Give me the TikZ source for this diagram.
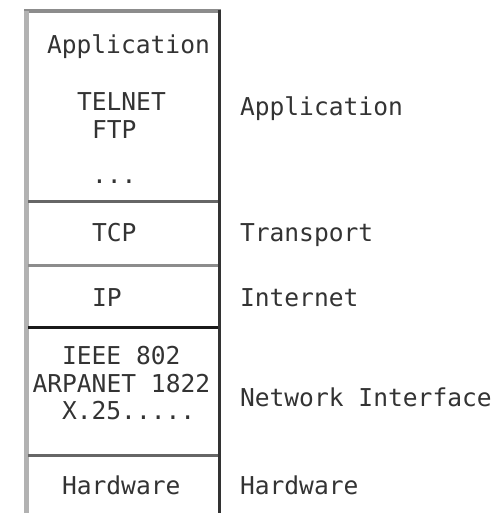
\documentclass[tikz,border=0pt]{standalone}
\usepackage{fontspec}
\setmonofont{DejaVu Sans Mono}
\begin{document}
\begin{tikzpicture}[x=1pt,y=-1pt,
  txt/.style={anchor=base west,inner sep=0pt,outer sep=0pt,font=\ttfamily\fontsize{24.6}{28}\selectfont,text=black!80},
  leftline/.style={line width=5pt,color=black!30},
  rightline/.style={line width=3pt,color=black!80},
  topline/.style={line width=4pt,color=black!45},
  sepA/.style={line width=3pt,color=black!60},
  sepB/.style={line width=3pt,color=black!45},
  sepC/.style={line width=3pt,color=black!90}]
\useasboundingbox (0,0) rectangle (499,513);
% frame
\coordinate (tl) at (26,11.5);
\coordinate (tr) at (219.5,11.5);
\coordinate (bl) at (26,513);
\coordinate (br) at (219.5,513);
\draw[topline] (24,11.5) -- (221,11.5);
\draw[leftline] (tl) -- (bl);
\draw[rightline] (219.5,10) -- (br);
% separators
\draw[sepA] (28,201) -- (218,201);
\draw[sepB] (28,265) -- (218,265);
\draw[sepC] (28,327) -- (218,327);
\draw[sepA] (28,455) -- (218,455);
% left column text (monospace grid: col k at 32.5+14.8k)
\node[txt] (app)  at (47,54) {Application};
\node[txt] (tel)  at (77,111) {TELNET};
\node[txt] (ftp)  at (92,139) {FTP};
\node[txt] (dots) at (92,183) {...};
\node[txt] (tcp)  at (92,241) {TCP};
\node[txt] (ip)   at (92,306) {IP};
\node[txt] (ieee) at (62,364) {IEEE 802};
\node[txt] (arpa) at (32.5,392) {ARPANET 1822};
\node[txt] (x25)  at (62,419) {X.25.....};
\node[txt] (hw)   at (62,494) {Hardware};
% right column labels
\node[txt] (lapp) at (240,116) {Application};
\node[txt] (ltr)  at (240,241) {Transport};
\node[txt] (lint) at (240,306) {Internet};
\node[txt] (lnet) at (240,406) {Network Interface};
\node[txt] (lhw)  at (240,494) {Hardware};
\end{tikzpicture}
\end{document}
